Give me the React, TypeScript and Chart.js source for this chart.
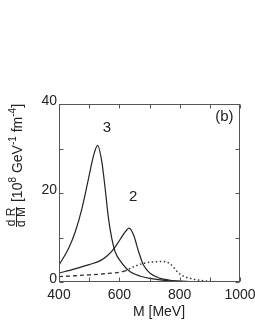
import React, { useEffect, useRef } from "react";
import { Chart, registerables } from "chart.js";

Chart.register(...registerables);

// Curve 3 (solid)
const m3 = [400, 432, 454, 476, 498, 515, 528, 542, 553, 564, 575, 586, 609, 636, 670, 702, 757, 800, 900, 1000];
const v3 = [3.8, 7.6, 11.3, 16.5, 23.3, 28.5, 30.7, 27, 21, 14.3, 9.8, 6.8, 4.2, 2.3, 1.3, 0.8, 0.3, 0.15, 0.05, 0.02];
// Curve 2 (solid)
const m2 = [400, 450, 500, 537, 560, 581, 603, 620, 632, 647, 664, 680, 702, 735, 768, 800, 900, 1000];
const v2 = [2.0, 2.9, 3.9, 4.8, 5.9, 7.4, 9.6, 11.3, 12.1, 10.6, 6.8, 3.8, 1.95, 0.8, 0.4, 0.2, 0.05, 0.02];
// Dashed curve
const mDash = [400, 450, 500, 550, 600, 625];
const vDash = [1.2, 1.4, 1.6, 1.85, 2.2, 2.6];
// Dotted curve
const mDot = [620, 647, 680, 719, 746, 768, 780, 795, 813, 846, 890, 930, 1000];
const vDot = [2.5, 3.4, 4.2, 4.55, 4.6, 4.1, 3.3, 2.1, 1.3, 0.65, 0.2, 0.05, 0.0];

const xTicks = [400, 500, 600, 700, 800, 900, 1000];
const xLabels = [400, 600, 800, 1000];
const yTicks = [0, 10, 20, 30, 40];
const yLabels = [0, 20, 40];

const curveLabels = [
  { text: "3", x: 559, y: 34.7 },
  { text: "2", x: 646, y: 19.1 },
  { text: "(b)", x: 948, y: 37.0 },
];

const FONT = '"Liberation Sans", Arial, Helvetica, sans-serif';
const INK = "#222";

const pts = (xs: number[], ys: number[]) => xs.map((x, i) => ({ x, y: ys[i] }));

const decor = {
  id: "decor",
  afterDraw(chart: any) {
    const ctx = chart.ctx as CanvasRenderingContext2D;
    const { left, right, top, bottom } = chart.chartArea;
    const xs = chart.scales.x;
    const ys = chart.scales.y;
    const L = Math.round(left) + 0.5;
    const R = Math.round(right) - 0.5;
    const T = Math.round(top) + 0.5;
    const B = Math.round(bottom) - 0.5;
    ctx.save();
    ctx.strokeStyle = "#555";
    ctx.lineWidth = 1;
    ctx.strokeRect(L, T, R - L, B - T);
    const tl = 4;
    ctx.beginPath();
    xTicks.forEach((v) => {
      const px = Math.round(xs.getPixelForValue(v)) + 0.5;
      ctx.moveTo(px, B);
      ctx.lineTo(px, B - tl);
      ctx.moveTo(px, T);
      ctx.lineTo(px, T + tl);
    });
    yTicks.forEach((v) => {
      const py = Math.round(ys.getPixelForValue(v)) + 0.5;
      ctx.moveTo(L, py);
      ctx.lineTo(L + tl, py);
      ctx.moveTo(R, py);
      ctx.lineTo(R - tl, py);
    });
    ctx.stroke();

    ctx.fillStyle = INK;
    ctx.font = `14px ${FONT}`;
    ctx.textAlign = "center";
    ctx.textBaseline = "middle";
    xLabels.forEach((v) => {
      ctx.fillText(String(v), xs.getPixelForValue(v), bottom + 13);
    });
    ctx.textAlign = "right";
    yLabels.forEach((v) => {
      ctx.fillText(String(v), left - 2, ys.getPixelForValue(v) - 3);
    });
    ctx.textAlign = "center";
    ctx.fillText("M [MeV]", 159, bottom + 30);

    curveLabels.forEach((c) => {
      ctx.font = `15px ${FONT}`;
      ctx.fillText(c.text, xs.getPixelForValue(c.x), ys.getPixelForValue(c.y));
    });

    // Y axis title (rotated)
    ctx.save();
    ctx.translate(17, 153);
    ctx.rotate(-Math.PI / 2);
    const segs = [
      { t: "[10", s: false },
      { t: "8", s: true },
      { t: " GeV", s: false },
      { t: "-1", s: true },
      { t: " fm", s: false },
      { t: "-4", s: true },
      { t: "]", s: false },
    ];
    const mainF = `14px ${FONT}`;
    const supF = `10px ${FONT}`;
    let total = 0;
    segs.forEach((sg) => {
      ctx.font = sg.s ? supF : mainF;
      total += ctx.measureText(sg.t).width;
    });
    let cx = -total / 2;
    ctx.textAlign = "left";
    ctx.textBaseline = "alphabetic";
    segs.forEach((sg) => {
      ctx.font = sg.s ? supF : mainF;
      ctx.fillText(sg.t, cx, sg.s ? -1 : 5);
      cx += ctx.measureText(sg.t).width;
    });
    ctx.restore();

    // fraction dR/dM
    ctx.save();
    ctx.translate(17, 217);
    ctx.rotate(-Math.PI / 2);
    ctx.font = `12px ${FONT}`;
    ctx.textAlign = "center";
    ctx.textBaseline = "alphabetic";
    ctx.fillText("d R", 0, -2);
    ctx.fillText("d M", 0, 8);
    ctx.strokeStyle = INK;
    ctx.lineWidth = 1;
    ctx.beginPath();
    ctx.moveTo(-10, -0.5);
    ctx.lineTo(10, -0.5);
    ctx.stroke();
    ctx.restore();

    ctx.restore();
  },
};

export default function App() {
  const ref = useRef<HTMLCanvasElement | null>(null);
  useEffect(() => {
    if (!ref.current) return;
    const base = {
      borderColor: INK,
      borderWidth: 1.2,
      pointRadius: 0,
      fill: false,
      cubicInterpolationMode: "monotone" as const,
    };
    const chart = new Chart(ref.current, {
      type: "line",
      data: {
        datasets: [
          { ...base, label: "3", data: pts(m3, v3) },
          { ...base, label: "2", data: pts(m2, v2) },
          { ...base, label: "dashed", data: pts(mDash, vDash), borderDash: [4, 3], borderWidth: 1.3, borderColor: "#333" },
          { ...base, label: "dotted", data: pts(mDot, vDot), borderDash: [1.5, 2.5], borderWidth: 1.5, borderColor: "#333" },
        ],
      },
      options: {
        animation: false,
        responsive: false,
        layout: { padding: { left: 59, top: 104, right: 15, bottom: 48 } },
        plugins: { legend: { display: false }, tooltip: { enabled: false } },
        scales: {
          x: { type: "linear", min: 400, max: 1000, display: false },
          y: { type: "linear", min: 0, max: 40, display: false },
        },
      },
      plugins: [decor],
    });
    return () => chart.destroy();
  }, []);
  return (
    <div style={{ position: "absolute", left: 0, top: 0, width: 255, height: 330, background: "#fff" }}>
      <canvas ref={ref} width={255} height={330} style={{ width: 255, height: 330 }} />
    </div>
  );
}
